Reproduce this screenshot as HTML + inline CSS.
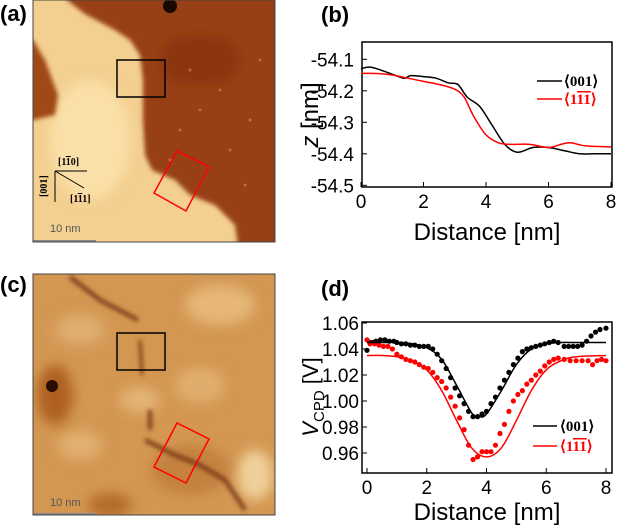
<!DOCTYPE html>
<html><head><meta charset="utf-8"><style>
body{margin:0;background:#fff;width:617px;height:525px;overflow:hidden}
svg{display:block;font-family:"Liberation Sans",sans-serif}
</style></head><body>
<svg id="fig" width="617" height="525" viewBox="0 0 617 525">
<defs>
<filter id="bl" x="-50%" y="-50%" width="200%" height="200%"><feGaussianBlur stdDeviation="6"/></filter>
<filter id="bl2" x="-50%" y="-50%" width="200%" height="200%"><feGaussianBlur stdDeviation="2"/></filter>
<clipPath id="ca"><rect x="33" y="0" width="242" height="242"/></clipPath>
<clipPath id="cc"><rect x="33" y="274" width="242" height="241"/></clipPath>
</defs>
<g font-weight="bold" font-size="22" fill="#000">
<text x="0" y="21">(a)</text>
<text x="321" y="22">(b)</text>
<text x="0" y="292">(c)</text>
<text x="321" y="296">(d)</text>
</g>
<!-- image a -->
<g clip-path="url(#ca)">
<rect x="33" y="0" width="242" height="242" fill="#f3cf90"/>
<ellipse cx="90" cy="140" rx="40" ry="60" fill="#fae0a8" filter="url(#bl)"/>
<polygon points="67,-20 67,0 85,14 115,30 130,40 140,55 143,80 143,120 145,155 152,170 175,180 190,195 215,205 235,225 240,260 300,260 300,-20" fill="#973f12" filter="url(#bl2)"/>
<ellipse cx="200" cy="60" rx="40" ry="25" fill="#8a360c" filter="url(#bl)"/>
<polygon points="20,40 33,40 45,60 58,95 55,115 33,120 20,120" fill="#a04a18" filter="url(#bl2)"/>
<circle cx="170" cy="6" r="7" fill="#1a0800"/>
<g fill="#c9773f" opacity="0.8">
<circle cx="190" cy="70" r="1.5"/><circle cx="220" cy="90" r="1.5"/><circle cx="250" cy="120" r="1.5"/><circle cx="180" cy="130" r="1.5"/><circle cx="230" cy="150" r="1.5"/><circle cx="200" cy="110" r="1.5"/><circle cx="260" cy="60" r="1.5"/><circle cx="170" cy="160" r="1.5"/><circle cx="245" cy="185" r="1.5"/></g>
<line x1="33" y1="241" x2="96" y2="241" stroke="#888" stroke-width="2"/>
<text x="50" y="232" font-size="11" fill="#555">10 nm</text>
<g stroke="#000" stroke-width="1" fill="none">
<line x1="55" y1="171" x2="87" y2="171"/><line x1="55" y1="171" x2="84" y2="188"/><line x1="55" y1="171" x2="55" y2="202"/></g>
<g font-family="Liberation Serif,serif" font-size="10" font-weight="bold">
<text x="58" y="165">[1<tspan text-decoration="overline">1</tspan>0]</text>
<text x="70" y="202">[1<tspan text-decoration="overline">1</tspan>1]</text>
<text transform="translate(47,197) rotate(-90)">[001]</text></g>
<rect x="117" y="60" width="48" height="37" fill="none" stroke="#000" stroke-width="1.5"/>
<polygon points="154,193 177,151 209,167 186,211" fill="none" stroke="#f00" stroke-width="1.5"/>
</g>
<rect x="33" y="0" width="242" height="242" fill="none" stroke="#444" stroke-width="1"/>
<!-- image c -->
<g clip-path="url(#cc)">
<rect x="33" y="274" width="242" height="241" fill="#d39752"/>
<ellipse cx="220" cy="305" rx="35" ry="20" fill="#e6b777" filter="url(#bl)"/>
<ellipse cx="255" cy="475" rx="18" ry="25" fill="#f0d09a" filter="url(#bl)"/>
<ellipse cx="80" cy="445" rx="22" ry="14" fill="#e2b071" filter="url(#bl)"/>
<ellipse cx="140" cy="400" rx="20" ry="12" fill="#e4b677" filter="url(#bl)"/>
<ellipse cx="200" cy="385" rx="25" ry="18" fill="#e0ad6c" filter="url(#bl)"/>
<ellipse cx="80" cy="330" rx="25" ry="15" fill="#dfae70" filter="url(#bl)"/>
<ellipse cx="55" cy="395" rx="18" ry="30" fill="#ae6024" filter="url(#bl)"/>
<ellipse cx="110" cy="505" rx="22" ry="12" fill="#b46a2c" filter="url(#bl)"/>
<ellipse cx="190" cy="470" rx="40" ry="25" fill="#c4813f" filter="url(#bl)"/>
<g stroke="#6a2a08" fill="none" filter="url(#bl2)" opacity="0.85">
<path d="M70,277 L100,300 L138,320" stroke-width="4"/>
<path d="M140,340 L142,375" stroke-width="3"/>
<path d="M150,410 L150,430" stroke-width="4"/>
<path d="M145,440 L175,455 L200,465 L225,480 L245,510" stroke-width="4"/>
</g>
<circle cx="52" cy="386" r="6" fill="#2a0d00"/>
<line x1="33" y1="514" x2="96" y2="514" stroke="#888" stroke-width="2"/>
<text x="50" y="506" font-size="11" fill="#555">10 nm</text>
<rect x="117" y="333" width="48" height="37" fill="none" stroke="#000" stroke-width="1.5"/>
<polygon points="154,467 177,423 209,439 186,483" fill="none" stroke="#f00" stroke-width="1.5"/>
</g>
<rect x="33" y="274" width="242" height="241" fill="none" stroke="#444" stroke-width="1"/>
<g id="chartB"></g>
<g id="chartD"></g>
</svg>
<script>
// chart (b)
const bTicksX=[0,2,4,6,8];
const bTicksY=[-54.1,-54.2,-54.3,-54.4,-54.5];
const bBlackX=[0,0.3,0.8,1.2,1.4,1.6,2,2.4,2.8,3.1,3.4,3.8,4.2,4.6,5.0,5.5,6,6.5,7,7.5,8];
const bBlackY=[-54.13,-54.125,-54.14,-54.155,-54.16,-54.152,-54.155,-54.16,-54.175,-54.18,-54.22,-54.25,-54.31,-54.37,-54.395,-54.38,-54.38,-54.39,-54.4,-54.4,-54.4];
const bRedX=[0,0.5,1,1.5,2,2.5,3,3.3,3.6,4,4.4,4.8,5.4,6,6.4,6.7,7.2,8];
const bRedY=[-54.145,-54.145,-54.15,-54.16,-54.17,-54.18,-54.195,-54.22,-54.28,-54.34,-54.365,-54.37,-54.37,-54.38,-54.37,-54.365,-54.375,-54.378];
// chart (d)
const dTicksX=[0,2,4,6,8];
const dTicksY=[1.06,1.04,1.02,1.00,0.98,0.96];
const dFitX=[0,0.5,1,1.5,2,2.5,3,3.5,3.75,4,4.5,5,5.5,6,6.5,7,8];
const dFitBlack=[1.045,1.045,1.045,1.044,1.041,1.032,1.012,0.991,0.988,0.990,1.008,1.028,1.040,1.044,1.045,1.045,1.045];
const dFitRedX=[0,0.5,1,1.5,2,2.5,3,3.5,4,4.5,5,5.5,6,6.5,7,8];
const dFitRed=[1.035,1.035,1.034,1.031,1.024,1.008,0.985,0.964,0.957,0.964,0.985,1.008,1.024,1.031,1.034,1.035];
const dDotBX=[0,0.1,0.2,0.3,0.45,0.6,0.75,0.9,1.0,1.15,1.3,1.45,1.6,1.75,1.9,2.05,2.2,2.35,2.5,2.65,2.8,2.95,3.1,3.25,3.4,3.55,3.7,3.85,4,4.15,4.3,4.45,4.6,4.75,4.9,5.05,5.2,5.35,5.5,5.65,5.8,5.95,6.1,6.25,6.4,6.6,6.75,6.9,7.05,7.2,7.35,7.5,7.65,7.8,8.0];
const dDotBY=[1.039,1.045,1.045,1.046,1.047,1.047,1.046,1.046,1.045,1.044,1.044,1.043,1.043,1.042,1.042,1.042,1.040,1.036,1.031,1.025,1.018,1.010,1.004,0.998,0.992,0.988,0.988,0.990,0.992,0.998,1.003,1.010,1.016,1.022,1.028,1.033,1.038,1.040,1.041,1.042,1.043,1.044,1.045,1.046,1.045,1.042,1.042,1.042,1.042,1.043,1.046,1.050,1.053,1.055,1.056];
const dDotRX=[0,0.1,0.25,0.4,0.55,0.7,0.85,1.0,1.15,1.3,1.45,1.6,1.75,1.9,2.05,2.2,2.35,2.5,2.65,2.8,2.95,3.1,3.25,3.4,3.55,3.7,3.85,4.0,4.15,4.3,4.45,4.6,4.75,4.9,5.05,5.2,5.35,5.5,5.65,5.8,5.95,6.1,6.25,6.4,6.6,6.8,7.0,7.2,7.4,7.55,7.7,7.85,8.0];
const dDotRY=[1.047,1.044,1.044,1.043,1.042,1.042,1.040,1.036,1.034,1.032,1.031,1.030,1.028,1.026,1.025,1.022,1.018,1.015,1.010,1.003,0.996,0.987,0.978,0.966,0.955,0.957,0.961,0.961,0.961,0.966,0.975,0.982,0.992,1.000,1.005,1.008,1.013,1.016,1.020,1.023,1.027,1.030,1.032,1.033,1.032,1.031,1.031,1.031,1.031,1.028,1.031,1.032,1.031];

const NS='http://www.w3.org/2000/svg';
function mk(parent,tag,attrs){const e=document.createElementNS(NS,tag);for(const k in attrs)e.setAttribute(k,attrs[k]);parent.appendChild(e);return e;}
function smooth(pts){let d='M'+pts[0][0]+','+pts[0][1];for(let i=0;i<pts.length-1;i++){const p0=pts[Math.max(0,i-1)],p1=pts[i],p2=pts[i+1],p3=pts[Math.min(pts.length-1,i+2)];d+=' C'+(p1[0]+(p2[0]-p0[0])/6)+','+(p1[1]+(p2[1]-p0[1])/6)+' '+(p2[0]-(p3[0]-p1[0])/6)+','+(p2[1]-(p3[1]-p1[1])/6)+' '+p2[0]+','+p2[1];}return d;}

// ---- chart B ----
(function(){
const g=document.getElementById('chartB');
const fx={x0:362,x1:612,y0:42,y1:187};
const sx=v=>361+v*(611-361)/8;
const sy=v=>59.3+(v-(-54.1))/(-0.1)*31.5;
const fr=mk(g,'rect',{x:fx.x0,y:fx.y0,width:fx.x1-fx.x0,height:fx.y1-fx.y0,fill:'none',stroke:'#000','stroke-width':1.5});


bTicksX.forEach(v=>{const x=sx(v);mk(g,'line',{x1:x,y1:fx.y1,x2:x,y2:fx.y1-5,stroke:'#000'});
 const t=mk(g,'text',{x:x,y:fx.y1+21,'font-size':19,'text-anchor':'middle'});t.textContent=v;
 
 });
bTicksY.forEach(v=>{const y=sy(v);mk(g,'line',{x1:fx.x0,y1:y,x2:fx.x0+5,y2:y,stroke:'#000'});
 const t=mk(g,'text',{x:fx.x0-8,y:y+7,'font-size':19,'text-anchor':'end'});t.textContent=v.toFixed(1);
 
 });
const pb=mk(g,'path',{d:smooth(bBlackX.map((x,i)=>[sx(x),sy(bBlackY[i])])),fill:'none',stroke:'#000','stroke-width':1.5});


const pr=mk(g,'path',{d:smooth(bRedX.map((x,i)=>[sx(x),sy(bRedY[i])])),fill:'none',stroke:'#f00','stroke-width':1.5});


const xl=mk(g,'text',{x:487,y:240,'font-size':24,'text-anchor':'middle'});xl.textContent='Distance [nm]';


const yl=mk(g,'text',{transform:'translate(318,115) rotate(-90)','font-size':24,'text-anchor':'middle'});yl.innerHTML='<tspan font-style="italic">z</tspan> [nm]';


[[81,'#000','legend-entry-001',0],[99,'#f00','legend-entry-1-11',1]].forEach(r=>{
 mk(g,'line',{x1:537,y1:r[0],x2:562,y2:r[0],stroke:r[1],'stroke-width':1.5});
 const t=mk(g,'text',{x:564,y:r[0]+5,'font-size':15,'font-weight':'bold',fill:r[1],'font-family':'Liberation Serif,serif'});
 t.innerHTML=r[3]?'⟨1<tspan text-decoration="overline">1</tspan><tspan text-decoration="overline">1</tspan>⟩':'⟨001⟩';
 
 });
})();

// ---- chart D ----
(function(){
const g=document.getElementById('chartD');
const fx={x0:362,x1:612,y0:322,y1:473};
const sx=v=>367+v*(606-367)/8;
const sy=v=>323+(1.06-v)/0.02*26;
const fr=mk(g,'rect',{x:fx.x0,y:fx.y0,width:fx.x1-fx.x0,height:fx.y1-fx.y0,fill:'none',stroke:'#000','stroke-width':1.5});


dTicksX.forEach(v=>{const x=sx(v);mk(g,'line',{x1:x,y1:fx.y1,x2:x,y2:fx.y1-5,stroke:'#000'});
 const t=mk(g,'text',{x:x,y:fx.y1+21,'font-size':19,'text-anchor':'middle'});t.textContent=v;
 
 });
dTicksY.forEach(v=>{const y=sy(v);mk(g,'line',{x1:fx.x0,y1:y,x2:fx.x0+5,y2:y,stroke:'#000'});
 const t=mk(g,'text',{x:fx.x0-3,y:y+7,'font-size':19,'text-anchor':'end'});t.textContent=v.toFixed(2);
 
 });
dDotBX.forEach((x,i)=>{const c=mk(g,'circle',{cx:sx(x),cy:sy(dDotBY[i]),r:2.6,fill:'#000'});
 
 });
dDotRX.forEach((x,i)=>{const c=mk(g,'circle',{cx:sx(x),cy:sy(dDotRY[i]),r:2.6,fill:'#f00'});
 
 });
const pb=mk(g,'path',{d:smooth(dFitX.map((x,i)=>[sx(x),sy(dFitBlack[i])])),fill:'none',stroke:'#000','stroke-width':1.5});


const pr=mk(g,'path',{d:smooth(dFitRedX.map((x,i)=>[sx(x),sy(dFitRed[i])])),fill:'none',stroke:'#f00','stroke-width':1.5});


const xl=mk(g,'text',{x:487,y:520,'font-size':24,'text-anchor':'middle'});xl.textContent='Distance [nm]';


const yl=mk(g,'text',{transform:'translate(318,397) rotate(-90)','font-size':22,'text-anchor':'middle'});
yl.innerHTML='<tspan font-style="italic">V</tspan><tspan font-size="15" dy="6">CPD</tspan><tspan dy="-6"> [V]</tspan>';


[[426,'#000','legend-entry-001-d',0],[446,'#f00','legend-entry-1-11-d',1]].forEach(r=>{
 mk(g,'line',{x1:533,y1:r[0],x2:557,y2:r[0],stroke:r[1],'stroke-width':1.5});
 const t=mk(g,'text',{x:560,y:r[0]+5,'font-size':15,'font-weight':'bold',fill:r[1],'font-family':'Liberation Serif,serif'});
 t.innerHTML=r[3]?'⟨1<tspan text-decoration="overline">1</tspan><tspan text-decoration="overline">1</tspan>⟩':'⟨001⟩';
 
 });
})();
</script>
</body></html>
